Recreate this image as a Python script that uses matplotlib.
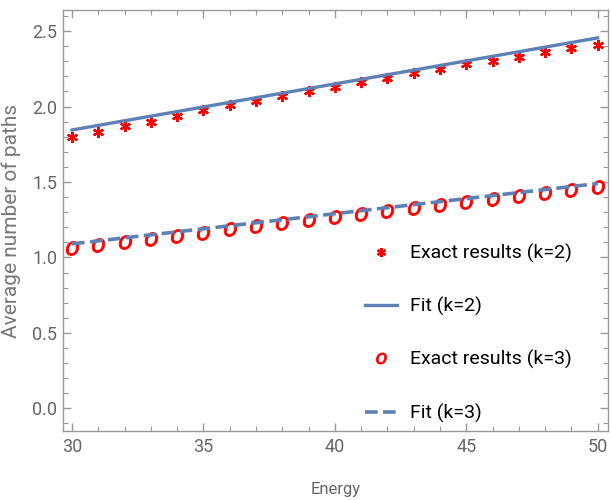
import numpy as np
import matplotlib
matplotlib.use("Agg")
import matplotlib.pyplot as plt
from matplotlib.ticker import MultipleLocator, FormatStrFormatter

energy = list(range(30, 51))
exact_k2 = [1.80, 1.83, 1.87, 1.90, 1.94, 1.98, 2.01, 2.04, 2.07, 2.10, 2.13,
            2.16, 2.19, 2.22, 2.25, 2.28, 2.30, 2.33, 2.36, 2.39, 2.41]
exact_k3 = [1.06, 1.08, 1.10, 1.12, 1.14, 1.16, 1.19, 1.21, 1.23, 1.25, 1.27,
            1.29, 1.31, 1.33, 1.35, 1.37, 1.39, 1.41, 1.43, 1.45, 1.47]
fit_range = [30, 50]
fit_k2 = [1.845, 2.455]
fit_k3 = [1.09, 1.49]

blue = "#5E81B5"
gray = "#666666"
plt.rcParams["font.family"] = ["Roboto", "DejaVu Sans"]

fig = plt.figure(figsize=(6.1, 5.0), dpi=100)
ax = fig.add_axes([0.103, 0.138, 0.894, 0.842])

ax.plot(energy, exact_k2, linestyle="none", marker=(6, 2, 0), markersize=8,
        color="red", markeredgewidth=1.6, label="Exact results (k=2)")
ax.plot(fit_range, fit_k2, color=blue, lw=2.4, label="Fit (k=2)")
ax.plot(energy, exact_k3, linestyle="none", marker="$o$", markersize=10,
        color="red", markeredgewidth=0.6, label="Exact results (k=3)")
ax.plot(fit_range, fit_k3, color=blue, lw=2.6, dashes=(3.5, 1.5), label="Fit (k=3)")

ax.set_xlim(29.65, 50.4)
ax.set_ylim(-0.15, 2.64)
ax.xaxis.set_major_locator(MultipleLocator(5))
ax.xaxis.set_minor_locator(MultipleLocator(1))
ax.yaxis.set_major_locator(MultipleLocator(0.5))
ax.yaxis.set_minor_locator(MultipleLocator(0.1))
ax.yaxis.set_major_formatter(FormatStrFormatter("%.1f"))

for s in ax.spines.values():
    s.set_color("#999999")
    s.set_linewidth(1.0)
ax.tick_params(which="both", direction="in", top=True, right=True,
               colors="#999999", labelcolor=gray, labelsize=13)
ax.tick_params(which="major", length=6, width=1.0)
ax.tick_params(which="minor", length=3.5, width=0.8)
ax.tick_params(axis="x", pad=5)
ax.tick_params(axis="y", pad=4)

ax.set_xlabel("Energy", color=gray, fontsize=12, labelpad=19)
ax.set_ylabel("Average number of paths", color="#777777", fontsize=15, labelpad=8)

# small legend markers, black text, anchored left of the right frame
leg = ax.legend(loc="lower right", frameon=False, fontsize=14, labelspacing=1.75,
                handlelength=1.65, handletextpad=0.7, borderpad=0, borderaxespad=0,
                bbox_to_anchor=(0.934, 0.02), markerscale=0.8)
for t in leg.get_texts():
    t.set_color("black")

fig.savefig("out.png", dpi=100)
